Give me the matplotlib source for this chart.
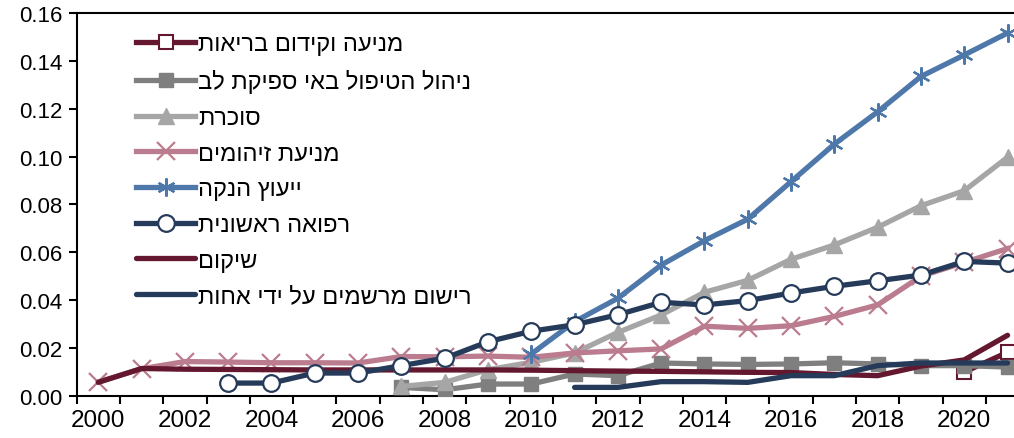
import numpy as np
import matplotlib.pyplot as plt
from matplotlib.ticker import FixedLocator, FormatStrFormatter

plt.rcParams["font.family"] = ["Liberation Sans", "DejaVu Sans"]
plt.rcParams["font.size"] = 16

years = list(range(2000, 2022))

# values per indicator, None where there is no data for the year
prevention = [None] * 20 + [0.0098, 0.0181]
heart_failure = [None] * 7 + [0.0034, 0.0024, 0.0048, 0.0048, 0.0090, 0.0083, 0.0136,
                              0.0132, 0.0130, 0.0132, 0.0137, 0.0132, 0.0125, 0.0125, 0.0119]
diabetes = [None] * 7 + [0.0038, 0.0055, 0.0108, 0.0139, 0.0178, 0.0264, 0.0337,
                         0.0432, 0.0482, 0.0570, 0.0630, 0.0704, 0.0794, 0.0857, 0.0997]
infection = [0.0057, 0.0112, 0.0142, 0.0140, 0.0137, 0.0137, 0.0136, 0.0163, 0.0162,
             0.0165, 0.0160, 0.0178, 0.0187, 0.0195, 0.0290, 0.0281, 0.0292, 0.0331,
             0.0379, 0.0499, 0.0557, 0.0615]
lactation = [None] * 10 + [0.0174, 0.0309, 0.0407, 0.0546, 0.0648, 0.0738, 0.0895,
                           0.1052, 0.1187, 0.1335, 0.1425, 0.1517]
primary = [None] * 3 + [0.0052, 0.0052, 0.0094, 0.0094, 0.0125, 0.0156, 0.0225, 0.0269,
                        0.0296, 0.0338, 0.0390, 0.0379, 0.0397, 0.0429, 0.0457, 0.0480,
                        0.0504, 0.0561, 0.0554]
rehab = [0.0055, 0.0113, 0.0110, 0.0109, 0.0108, 0.0107, 0.0107, 0.0107, 0.0107, 0.0107,
         0.0106, 0.0104, 0.0102, 0.0101, 0.0099, 0.0097, 0.0096, 0.0088, 0.0083, 0.0123,
         0.0149, 0.0252]
nurse_rx = [None] * 11 + [0.0034, 0.0034, 0.0058, 0.0058, 0.0055, 0.0083, 0.0083,
                          0.0125, 0.0136, 0.0136, 0.0136]

labels = [
    "מניעה וקידום בריאות",
    "ניהול הטיפול באי ספיקת לב",
    "סוכרת",
    "מניעת זיהומים",
    "ייעוץ הנקה",
    "רפואה ראשונית",
    "שיקום",
    "רישום מרשמים על ידי אחות",
]


def heb(s):
    # matplotlib lays glyphs out left to right
    return s[::-1]


def arr(vals):
    return np.array([np.nan if v is None else v for v in vals], dtype=float)


maroon = "#641830"
pink = "#BA7C8E"
blue = "#4E78A9"
navy = "#253B59"
lgray = "#A6A6A6"
mgray = "#7F7F7F"
lw = 3.8

fig = plt.figure(figsize=(10.14, 4.39), dpi=100)
ax = fig.add_axes([0.0756, 0.0968, 0.9394, 0.871])

x = np.array(years)
ax.plot(x, arr(prevention), color=maroon, lw=lw, marker="s", ms=10,
        mfc="white", mec=maroon, mew=1.5, label=heb(labels[0]), zorder=3)
ax.plot(x, arr(heart_failure), color=mgray, lw=lw, marker="s", ms=10,
        mfc=mgray, mec=mgray, label=heb(labels[1]), zorder=3)
ax.plot(x, arr(diabetes), color=lgray, lw=lw, marker="^", ms=11,
        mfc=lgray, mec=lgray, label=heb(labels[2]), zorder=3)
ax.plot(x, arr(infection), color=pink, lw=lw, marker="x", ms=13,
        mew=1.6, mec=pink, label=heb(labels[3]), zorder=3)
ax.plot(x, arr(lactation), color=blue, lw=lw, marker=(6, 2, 0), ms=13,
        mew=1.6, mec=blue, label=heb(labels[4]), zorder=3)
ax.plot(x, arr(primary), color=navy, lw=lw, marker="o", ms=12,
        mfc="white", mec=navy, mew=1.6, label=heb(labels[5]), zorder=4)
ax.plot(x, arr(rehab), color=maroon, lw=lw, label=heb(labels[6]), zorder=3,
        solid_capstyle="round")
ax.plot(x, arr(nurse_rx), color=navy, lw=lw, label=heb(labels[7]), zorder=3,
        solid_capstyle="round")

ax.set_xlim(1999.5, 2021.5)
ax.set_ylim(0, 0.16)
ax.set_yticks(np.arange(0, 0.161, 0.02))
ax.yaxis.set_major_formatter(FormatStrFormatter("%.2f"))
ax.set_xticks(years[::2])
ax.xaxis.set_minor_locator(FixedLocator(np.arange(1999.5, 2022, 1)))
ax.tick_params(axis="x", which="major", length=0, pad=10, labelsize=17.5)
ax.tick_params(axis="x", which="minor", length=6, width=1.5, direction="out")
ax.tick_params(axis="y", length=6, width=1.5, direction="out", pad=4)

for side in ["left", "bottom", "top"]:
    ax.spines[side].set_linewidth(1.5)
ax.spines["right"].set_visible(False)

ax.legend(loc="upper left", bbox_to_anchor=(0.045, 0.99), frameon=False,
          handlelength=2.5, handletextpad=0.12, labelspacing=0.58,
          borderaxespad=0.3, fontsize=17)

fig.savefig("out.png", dpi=100)
